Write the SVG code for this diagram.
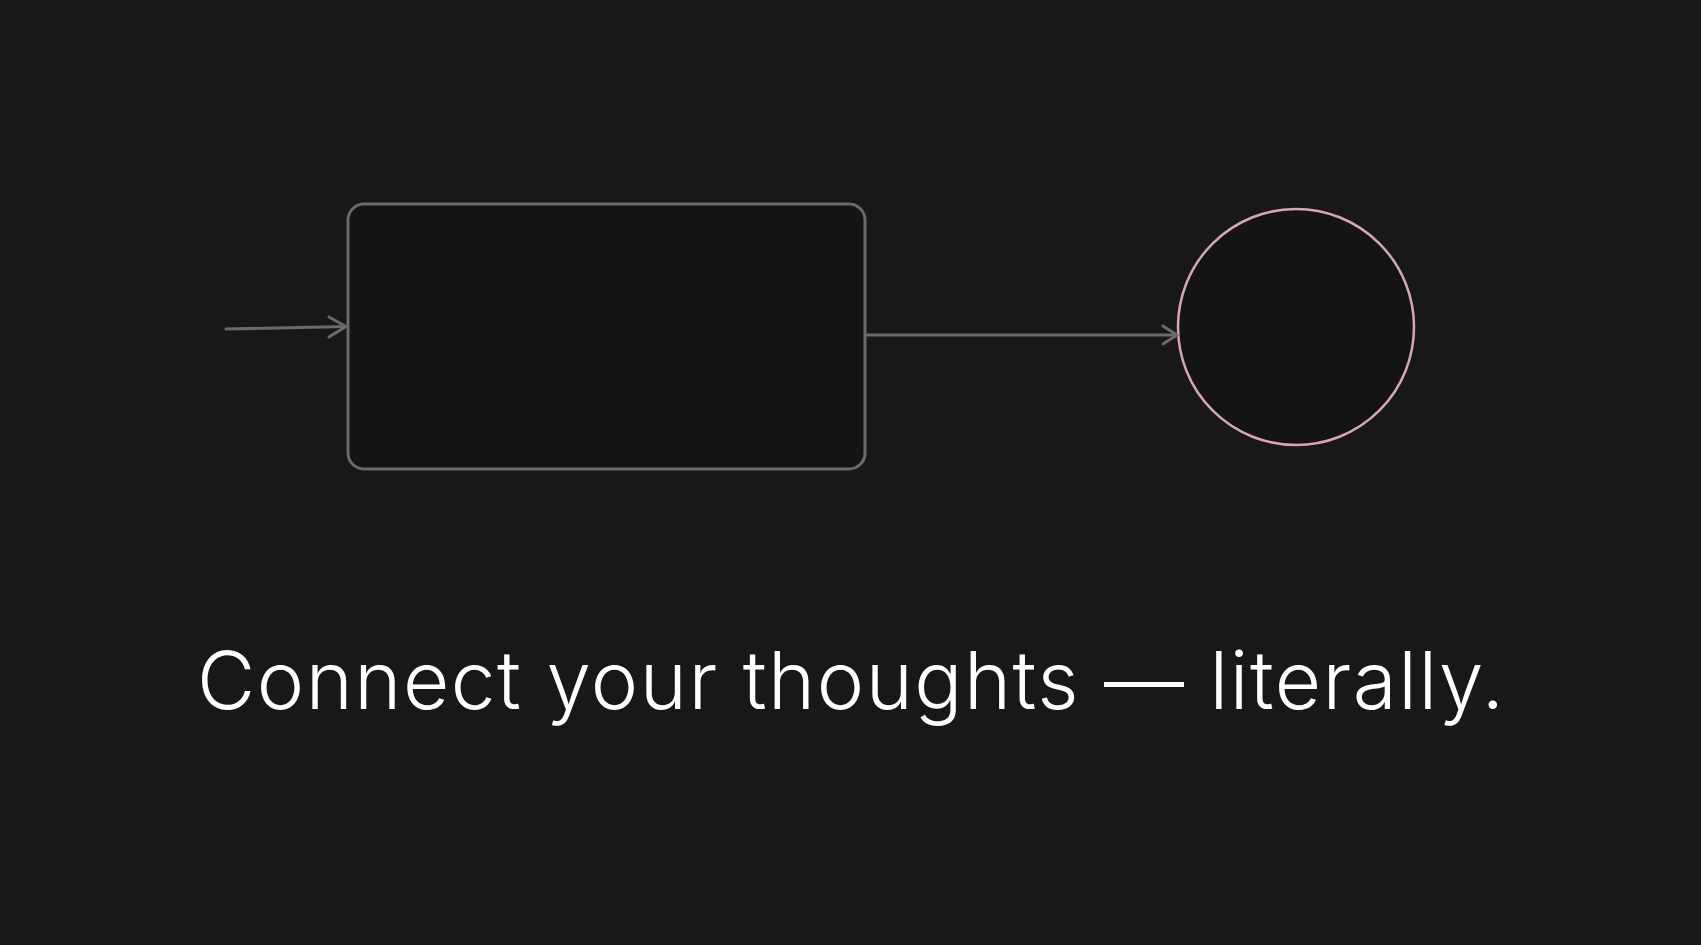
<svg xmlns="http://www.w3.org/2000/svg" width="1701" height="945" viewBox="0 0 1701 945">
<style>
.edge{fill:none;stroke:#6a6a6a;stroke-width:3;stroke-linecap:round;stroke-linejoin:round}
.caption{font-family:Inter,Lato,"Liberation Sans",sans-serif;font-weight:300;font-size:80px;fill:#ffffff}
</style>
<rect width="1701" height="945" fill="#181818"/>
<g id="node-box">
<rect x="348" y="204" width="517" height="265" rx="16" ry="16" fill="#141414" stroke="#6a6a6a" stroke-width="3"/>
</g>
<g id="node-circle">
<circle cx="1296" cy="327" r="118" fill="#141414" stroke="#d6a7ae" stroke-width="2.5"/>
</g>
<g id="connectors">
<path class="edge" d="M226 329 L346 326.5"/>
<path class="edge" d="M329 317 L346 326.5 L329 337"/>
<path class="edge" d="M866 335 L1177 335"/>
<path class="edge" d="M1163 326 L1177 335 L1163 344"/>
</g>
<text class="caption" x="197" y="709" textLength="1307" lengthAdjust="spacing">Connect your thoughts — literally.</text>
</svg>
